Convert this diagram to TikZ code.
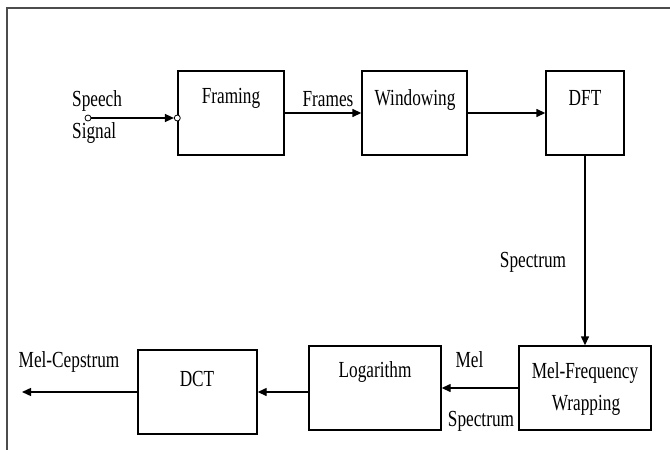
\documentclass[tikz,border=0pt]{standalone}
\usepackage{fontspec}
\setmainfont[FakeStretch=0.75]{Liberation Serif}
\usetikzlibrary{arrows.meta}
\begin{document}
\begin{tikzpicture}[x=1pt,y=-1pt,
  block/.style={draw,line width=1.4pt,inner sep=0pt},
  txt/.style={font=\fontsize{23}{25}\selectfont,inner sep=0pt,anchor=base},
  flow/.style={line width=1.4pt,-{Triangle[length=9pt,width=8pt]}},
  port/.style={circle,draw,fill=white,line width=0.8pt,inner sep=0pt,minimum size=6pt},
  frameline/.style={draw=black!70,line width=2pt}]
\useasboundingbox (0,0) rectangle (670,450);
% outer frame (top and left edges)
\draw[frameline] (7,450) -- (7,8) -- (670,8);

% processing blocks
\node[block,minimum width=106pt,minimum height=84pt] (framing) at (231,113) {};
\node[block,minimum width=105pt,minimum height=84pt] (windowing) at (414.5,113) {};
\node[block,minimum width=78pt,minimum height=84pt] (dft) at (585,113) {};
\node[block,minimum width=132pt,minimum height=84pt] (melw) at (585,388) {};
\node[block,minimum width=132pt,minimum height=84pt] (logb) at (375,388) {};
\node[block,minimum width=119pt,minimum height=84pt] (dct) at (197.5,392) {};

% block titles
\node[txt] (tframing) at (231,103) {Framing};
\node[txt] (twindowing) at (415,105) {Windowing};
\node[txt] (tdft) at (585,105) {DFT};
\node[txt] (tmel1) at (585,378) {Mel-Frequency};
\node[txt] (tmel2) at (586,410) {Wrapping};
\node[txt] (tlog) at (375,377) {Logarithm};
\node[txt] (tdct) at (197,386) {DCT};

% signal labels
\node[txt,anchor=base west] (lspeech) at (72,106) {Speech};
\node[txt,anchor=base west] (lsignal) at (72,138) {Signal};
\node[txt] (lframes) at (328,106) {Frames};
\node[txt] (lspec) at (533,267) {Spectrum};
\node[txt] (lmel) at (469.5,367) {Mel};
\node[txt] (lspec2) at (481,426) {Spectrum};
\node[txt] (lcep) at (69,367) {Mel-Cepstrum};

% input terminal and port
\node[port] (src) at (88,118) {};
\node[port] (inport) at (framing.west |- src) {};
\coordinate (out) at (22,392);

% connectors
\draw[flow] (src.east) -- (inport.west);
\draw[flow] (framing.east) -- (windowing.west);
\draw[flow] (windowing.east) -- (dft.west);
\draw[flow] (dft.south) -- (melw.north);
\draw[flow] (melw.west) -- (logb.east);
\draw[flow] (logb.west |- dct.east) -- (dct.east);
\draw[flow] (dct.west) -- (out);
\end{tikzpicture}
\end{document}
